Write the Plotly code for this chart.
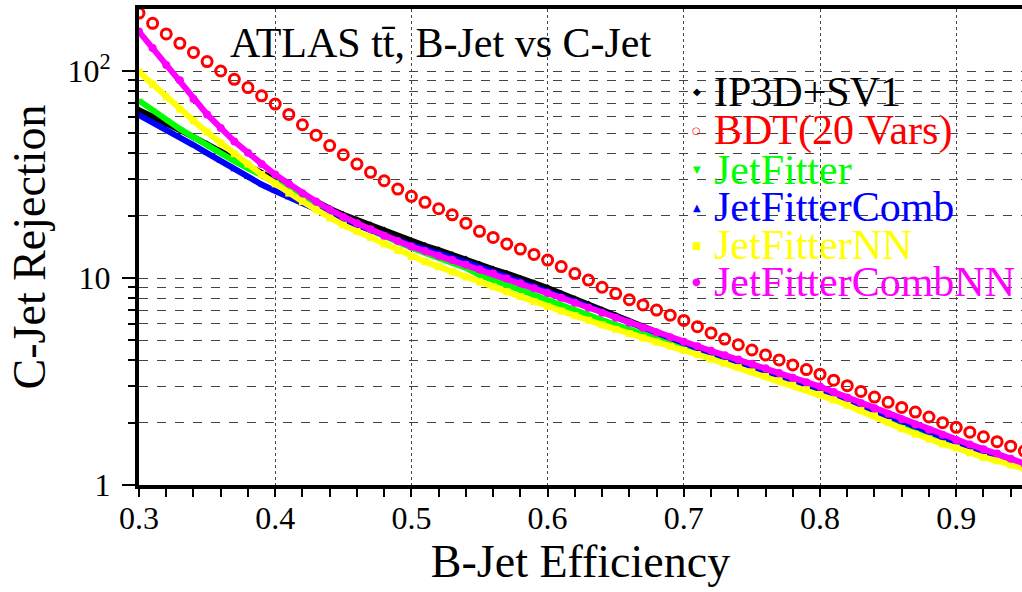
import plotly.graph_objects as go

# b-jet efficiency grid shared by all taggers
EFF = [0.30, 0.31, 0.32, 0.33, 0.34, 0.35, 0.36, 0.37, 0.38, 0.39,
       0.40, 0.41, 0.42, 0.43, 0.44, 0.45, 0.46, 0.47, 0.48, 0.49,
       0.50, 0.51, 0.52, 0.53, 0.54, 0.55, 0.56, 0.57, 0.58, 0.59,
       0.60, 0.61, 0.62, 0.63, 0.64, 0.65, 0.66, 0.67, 0.68, 0.69,
       0.70, 0.71, 0.72, 0.73, 0.74, 0.75, 0.76, 0.77, 0.78, 0.79,
       0.80, 0.81, 0.82, 0.83, 0.84, 0.85, 0.86, 0.87, 0.88, 0.89,
       0.90, 0.91, 0.92, 0.93, 0.94, 0.95]

# c-jet rejection per tagger
IP3D_SV1 = [64.6, 60.3, 55.6, 51.9, 47.9, 44.2, 40.7, 37.6, 34.7, 32.0,
            29.5, 27.2, 25.1, 23.2, 21.6, 20.2, 19.05, 18.0, 17.0, 15.85,
            15.0, 14.3, 13.65, 12.9, 12.3, 11.6, 11.0, 10.5, 9.89, 9.44,
            8.95, 8.41, 7.91, 7.45, 7.00, 6.58, 6.17, 5.82, 5.47, 5.15,
            4.85, 4.62, 4.40, 4.19, 3.98, 3.78, 3.60, 3.42, 3.25, 3.09,
            2.92, 2.75, 2.59, 2.44, 2.30, 2.17, 2.04, 1.92, 1.81, 1.71,
            1.60, 1.52, 1.45, 1.38, 1.31, 1.24]

BDT_20 = [190.5, 170, 151, 136, 123, 111, 100, 91.2, 83.2, 75.9,
          69.2, 61.7, 55.0, 49.0, 43.6, 39.4, 35.5, 32.4, 29.5, 26.9,
          24.8, 23.2, 21.6, 20.2, 18.4, 16.8, 15.7, 14.6, 13.8, 13.0,
          12.2, 11.35, 10.5, 9.77, 9.02, 8.41, 7.85, 7.41, 7.00, 6.61,
          6.24, 5.82, 5.43, 5.07, 4.76, 4.49, 4.25, 4.02, 3.80, 3.61,
          3.43, 3.21, 3.02, 2.83, 2.66, 2.51, 2.37, 2.25, 2.13, 2.00,
          1.90, 1.80, 1.71, 1.62, 1.54, 1.46]

JETFITTER = [71.9, 64.6, 58.2, 52.5, 47.9, 43.6, 39.8, 36.7, 33.9, 31.3,
             28.8, 26.6, 24.5, 22.6, 20.9, 19.5, 18.2, 17.0, 15.85, 14.9,
             14.0, 13.2, 12.5, 11.8, 11.2, 10.35, 9.77, 9.23, 8.71, 8.22,
             7.76, 7.35, 6.97, 6.61, 6.27, 5.94, 5.65, 5.37, 5.11, 4.85,
             4.61, 4.40, 4.19, 3.98, 3.78, 3.60, 3.42, 3.25, 3.09, 2.94,
             2.79, 2.63, 2.48, 2.34, 2.21, 2.09, 1.97, 1.86, 1.76, 1.66,
             1.57, 1.49, 1.42, 1.35, 1.28, 1.22]

JETFITTER_COMB = [61.2, 56.5, 52.1, 48.0, 43.9, 40.1, 36.6, 33.4, 30.7, 28.3,
                  26.3, 24.5, 22.9, 21.5, 20.2, 19.05, 18.0, 17.0, 16.0, 15.1,
                  14.4, 13.8, 13.2, 12.5, 11.9, 11.3, 10.7, 10.2, 9.66, 9.16,
                  8.71, 8.20, 7.73, 7.28, 6.85, 6.46, 6.08, 5.74, 5.41, 5.11,
                  4.82, 4.58, 4.37, 4.15, 3.94, 3.75, 3.56, 3.39, 3.22, 3.05,
                  2.90, 2.73, 2.57, 2.42, 2.28, 2.15, 2.02, 1.91, 1.80, 1.69,
                  1.60, 1.52, 1.44, 1.37, 1.30, 1.24]

JETFITTER_NN = [98.9, 86.1, 75.0, 65.3, 57.5, 50.7, 44.7, 39.8, 35.5, 31.6,
                28.5, 25.7, 23.4, 21.4, 19.5, 18.0, 16.8, 15.7, 14.6, 13.6,
                12.7, 12.0, 11.35, 10.7, 10.1, 9.59, 9.08, 8.59, 8.13, 7.69,
                7.28, 6.92, 6.58, 6.25, 5.94, 5.65, 5.38, 5.13, 4.90, 4.68,
                4.47, 4.27, 4.06, 3.87, 3.69, 3.52, 3.35, 3.19, 3.04, 2.89,
                2.74, 2.58, 2.43, 2.29, 2.16, 2.00, 1.87, 1.76, 1.67, 1.58,
                1.51, 1.43, 1.36, 1.31, 1.25, 1.20]

JETFITTER_COMB_NN = [155, 129, 107, 90.2, 73.3, 61.7, 53.1, 45.7, 40.3, 35.5,
                     31.6, 28.5, 25.7, 23.4, 21.4, 19.7, 18.4, 17.2, 16.0, 15.1,
                     14.2, 13.5, 12.8, 12.2, 11.6, 11.0, 10.5, 9.95, 9.42, 8.91,
                     8.47, 8.02, 7.59, 7.18, 6.79, 6.43, 6.08, 5.75, 5.46, 5.18,
                     4.92, 4.68, 4.45, 4.24, 4.04, 3.85, 3.66, 3.48, 3.30, 3.14,
                     2.99, 2.81, 2.65, 2.49, 2.35, 2.21, 2.08, 1.96, 1.85, 1.75,
                     1.65, 1.57, 1.49, 1.42, 1.34, 1.27]

X_TICKS = [0.3, 0.4, 0.5, 0.6, 0.7, 0.8, 0.9]
X_TICK_TEXT = ["0.3", "0.4", "0.5", "0.6", "0.7", "0.8", "0.9"]
Y_TICKS = [1, 10, 100]
Y_TICK_TEXT = ["1", "10", "10<sup>2</sup>"]

SERIF = "Liberation Serif, Times New Roman, serif"

# (name, values, colour, marker symbol, marker size, draw as band)
series = [
    ("IP3D+SV1", IP3D_SV1, "#000000", "diamond", 6, True),
    ("BDT(20 Vars)", BDT_20, "#ff0000", "circle-open", 10, False),
    ("JetFitter", JETFITTER, "#00ff00", "triangle-down", 7, True),
    ("JetFitterComb", JETFITTER_COMB, "#0000ff", "triangle-up", 7, True),
    ("JetFitterNN", JETFITTER_NN, "#ffff00", "square", 7, True),
    ("JetFitterCombNN", JETFITTER_COMB_NN, "#ff00ff", "circle", 8, True),
]

fig = go.Figure()
for name, vals, col, sym, size, band in series:
    if band:
        fig.add_trace(go.Scatter(
            x=EFF, y=vals, name=name, mode="lines+markers",
            line=dict(color=col, width=6),
            marker=dict(symbol=sym, size=size, color=col),
            showlegend=False))
    else:
        fig.add_trace(go.Scatter(
            x=EFF, y=vals, name=name, mode="markers",
            marker=dict(symbol=sym, size=size, color=col,
                        line=dict(color=col, width=3)),
            showlegend=False))

# legend drawn as text beside small glyph markers
legend_glyphs = ["\u25C6", "\u25CB", "\u25BC", "\u25B2", "\u25A0", "\u25CF"]
legend_y = [0.8263, 0.7437, 0.6618, 0.5840, 0.5042, 0.4265]
annotations = []
for (name, _, col, _, _, _), glyph, ly in zip(series, legend_glyphs, legend_y):
    annotations.append(dict(
        x=0.6319, y=ly, xref="paper", yref="paper",
        text=glyph, showarrow=False, xanchor="center", yanchor="middle",
        font=dict(family="DejaVu Sans", size=10, color=col)))
    annotations.append(dict(
        x=0.6490, y=ly, xref="paper", yref="paper",
        text=name, showarrow=False, xanchor="left", yanchor="middle",
        font=dict(family=SERIF, size=42, color=col)))

annotations.append(dict(
    x=0.1008, y=0.9286, xref="paper", yref="paper",
    text="ATLAS tt\u0304, B-Jet vs C-Jet", showarrow=False,
    xanchor="left", yanchor="middle",
    font=dict(family=SERIF, size=42, color="black")))

fig.update_layout(
    width=1022, height=592,
    margin=dict(l=139, r=0, t=9, b=107),
    paper_bgcolor="white", plot_bgcolor="white",
    font=dict(family=SERIF, color="black"),
    annotations=annotations,
    showlegend=False,
)

fig.update_xaxes(
    range=[0.3, 0.9483],
    showline=True, linewidth=4, linecolor="black", mirror=True,
    ticks="outside", ticklen=8, tickwidth=1.5, tickcolor="black",
    tickvals=X_TICKS, ticktext=X_TICK_TEXT,
    tickfont=dict(family=SERIF, size=32, color="black"),
    ticklabelstandoff=-6,
    showgrid=True, gridcolor="#444444", gridwidth=1, griddash="dot",
    zeroline=False,
    minor=dict(dtick=0.02, ticks="outside", ticklen=8, tickwidth=1.5,
               tickcolor="black", showgrid=False),
    title=dict(text="B-Jet Efficiency",
               font=dict(family=SERIF, size=46, color="black"), standoff=6),
)

fig.update_yaxes(
    type="log", range=[0, 2.2995],
    showline=True, linewidth=4, linecolor="black", mirror=False,
    ticks="outside", ticklen=13, tickwidth=1.5, tickcolor="black",
    tickvals=Y_TICKS, ticktext=Y_TICK_TEXT,
    tickfont=dict(family=SERIF, size=32, color="black"),
    ticklabelstandoff=5,
    showgrid=True, gridcolor="#444444", gridwidth=1, griddash="dash",
    zeroline=False,
    minor=dict(dtick="D1", ticks="outside", ticklen=7, tickwidth=1.5,
               tickcolor="black", showgrid=True, gridcolor="#444444",
               gridwidth=1, griddash="dash"),
    title=dict(text="C-Jet Rejection",
               font=dict(family=SERIF, size=46, color="black"), standoff=8),
)

fig.write_html("out.html")
